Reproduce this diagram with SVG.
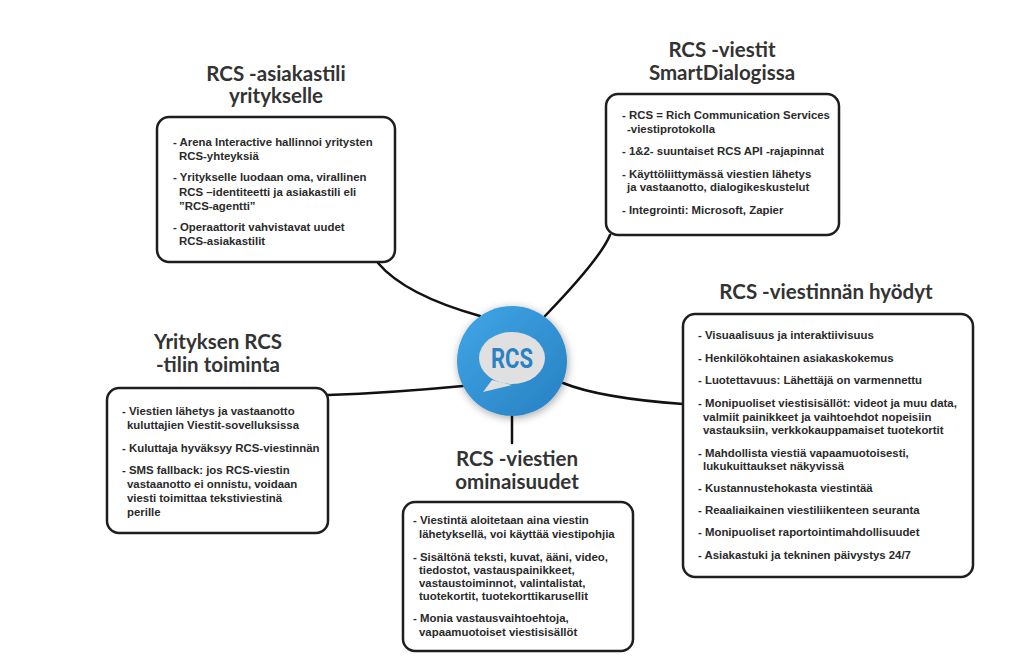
<svg xmlns="http://www.w3.org/2000/svg" width="1024" height="666" viewBox="0 0 1024 666">
<style>
.title{font-family:Lato,"Liberation Sans",sans-serif;font-weight:700;font-size:20.5px;fill:#333;text-anchor:middle}
.body{font-family:"Liberation Sans",Arial,sans-serif;font-weight:700;font-size:11.4px;fill:#2a2a2a}
.box{fill:#fff;stroke:#1e1e1e;stroke-width:2.5}
.conn{fill:none;stroke:#111;stroke-width:2.5;stroke-linecap:round}
</style>
<defs>
<linearGradient id="blue" x1="0" y1="0" x2="1" y2="1">
<stop offset="0" stop-color="#40a6e6"/>
<stop offset="1" stop-color="#2780c2"/>
</linearGradient>
<filter id="shadow" x="-30%" y="-30%" width="160%" height="160%">
<feDropShadow dx="1" dy="2" stdDeviation="4" flood-color="#000" flood-opacity="0.35"/>
</filter>
</defs>
<rect width="1024" height="666" fill="#fff"/>
<g id="connectors">
<path class="conn" d="M378,263 Q405,295 480,316"/>
<path class="conn" d="M610,235 C602,255 570,290 545,316"/>
<path class="conn" d="M328,395 Q390,393 463,386"/>
<path class="conn" d="M563,383 Q600,398 683,404"/>
<path class="conn" d="M512,416 L512,443"/>
</g>
<g id="center">
<circle cx="512" cy="361" r="55" fill="url(#blue)" filter="url(#shadow)"/>
<path d="M492,380 L483,392 L512,385 Z" fill="#e0e0e0"/>
<ellipse cx="512" cy="358" rx="33" ry="26" fill="#e0e0e0"/>
<text x="512" y="368" font-family="Roboto,'Liberation Sans',sans-serif" font-weight="700" font-size="27" fill="#2a82c4" text-anchor="middle" textLength="42" lengthAdjust="spacingAndGlyphs">RCS</text>
</g>
<g id="asiakastili">
<text class="title" x="276" y="81">RCS -asiakastili</text>
<text class="title" x="276" y="103">yritykselle</text>
<rect class="box" x="157" y="117" width="238" height="145" rx="12"/>
<text class="body" x="173" y="146">- Arena Interactive hallinnoi yritysten</text>
<text class="body" x="179" y="160">RCS-yhteyksiä</text>
<text class="body" x="173" y="181">- Yritykselle luodaan oma, virallinen</text>
<text class="body" x="179" y="196">RCS –identiteetti ja asiakastili eli</text>
<text class="body" x="179" y="210">”RCS-agentti”</text>
<text class="body" x="173" y="231">- Operaattorit vahvistavat uudet</text>
<text class="body" x="179" y="245">RCS-asiakastilit</text>
</g>
<g id="smartdialog">
<text class="title" x="722" y="57">RCS -viestit</text>
<text class="title" x="722" y="80">SmartDialogissa</text>
<rect class="box" x="606" y="94" width="233" height="141" rx="12"/>
<text class="body" x="622" y="119">- RCS = Rich Communication Services</text>
<text class="body" x="627" y="133">-viestiprotokolla</text>
<text class="body" x="622" y="155">- 1&amp;2- suuntaiset RCS API -rajapinnat</text>
<text class="body" x="622" y="178">- Käyttöliittymässä viestien lähetys</text>
<text class="body" x="627" y="191">ja vastaanotto, dialogikeskustelut</text>
<text class="body" x="622" y="214">- Integrointi: Microsoft, Zapier</text>
</g>
<g id="tilin-toiminta">
<text class="title" x="218" y="349">Yrityksen RCS</text>
<text class="title" x="218" y="372">-tilin toiminta</text>
<rect class="box" x="107" y="388" width="221" height="145" rx="12"/>
<text class="body" x="122" y="415">- Viestien lähetys ja vastaanotto</text>
<text class="body" x="127" y="429">kuluttajien Viestit-sovelluksissa</text>
<text class="body" x="122" y="452">- Kuluttaja hyväksyy RCS-viestinnän</text>
<text class="body" x="122" y="474">- SMS fallback: jos RCS-viestin</text>
<text class="body" x="127" y="488">vastaanotto ei onnistu, voidaan</text>
<text class="body" x="127" y="502">viesti toimittaa tekstiviestinä</text>
<text class="body" x="127" y="516">perille</text>
</g>
<g id="hyodyt">
<text class="title" x="826" y="299">RCS -viestinnän hyödyt</text>
<rect class="box" x="683" y="314" width="290" height="263" rx="12"/>
<text class="body" x="698" y="339">- Visuaalisuus ja interaktiivisuus</text>
<text class="body" x="698" y="362">- Henkilökohtainen asiakaskokemus</text>
<text class="body" x="698" y="384">- Luotettavuus: Lähettäjä on varmennettu</text>
<text class="body" x="698" y="407">- Monipuoliset viestisisällöt: videot ja muu data,</text>
<text class="body" x="703" y="420.5">valmiit painikkeet ja vaihtoehdot nopeisiin</text>
<text class="body" x="703" y="434">vastauksiin, verkkokauppamaiset tuotekortit</text>
<text class="body" x="698" y="457">- Mahdollista viestiä vapaamuotoisesti,</text>
<text class="body" x="703" y="470">lukukuittaukset näkyvissä</text>
<text class="body" x="698" y="492">- Kustannustehokasta viestintää</text>
<text class="body" x="698" y="514">- Reaaliaikainen viestiliikenteen seuranta</text>
<text class="body" x="698" y="536">- Monipuoliset raportointimahdollisuudet</text>
<text class="body" x="698" y="559">- Asiakastuki ja tekninen päivystys 24/7</text>
</g>
<g id="ominaisuudet">
<text class="title" x="517" y="466">RCS -viestien</text>
<text class="title" x="517" y="489">ominaisuudet</text>
<rect class="box" x="403" y="502" width="230" height="149" rx="12"/>
<text class="body" x="413" y="524">- Viestintä aloitetaan aina viestin</text>
<text class="body" x="419" y="538">lähetyksellä, voi käyttää viestipohjia</text>
<text class="body" x="413" y="561">- Sisältönä teksti, kuvat, ääni, video,</text>
<text class="body" x="419" y="574">tiedostot, vastauspainikkeet,</text>
<text class="body" x="419" y="587">vastaustoiminnot, valintalistat,</text>
<text class="body" x="419" y="600">tuotekortit, tuotekorttikarusellit</text>
<text class="body" x="413" y="622">- Monia vastausvaihtoehtoja,</text>
<text class="body" x="419" y="636">vapaamuotoiset viestisisällöt</text>
</g>
</svg>
